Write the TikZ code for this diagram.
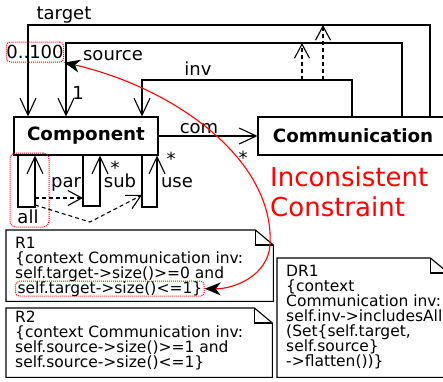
\documentclass[tikz,border=0pt]{standalone}
\usepackage{fontspec}
\setmainfont{DejaVu Sans}
\usetikzlibrary{arrows.meta, positioning}
\newcommand\notefont{\fontsize{15.5}{15}\selectfont\lineskiplimit=-20pt\relax}
\tikzset{
  classbox/.style={rectangle, draw, line width=1.1pt, font=\bfseries\fontsize{18.3}{18.3}\selectfont},
  lbl/.style={inner sep=0pt, anchor=base, font=\fontsize{18}{18}\selectfont},
  notebox/.style={rectangle, anchor=north west, inner sep=0pt},
  notetext/.style={inner sep=0pt, anchor=base west, align=left, font=\notefont},
  highlight/.style={draw=red, densely dotted, line width=1pt, rounded corners=4pt},
  assoc/.style={line width=1.1pt, -{Straight Barb[length=17pt, width=16pt]}},
  dep/.style={line width=1.1pt, dash pattern=on 4pt off 3pt, -{Straight Barb[length=14pt, width=15pt]}},
  conflict/.style={red, line width=1.1pt, {Stealth[black, length=16pt, width=13pt, inset=5pt]}-{Stealth[black, length=16pt, width=13pt, inset=5pt]}}
}
\begin{document}
\begin{tikzpicture}[x=1pt, y=-1pt]
  \useasboundingbox (0,0) rectangle (443,381);
  \clip (0,0) rectangle (443,381);

  % Clases
  \node[classbox, minimum width=144pt, minimum height=38pt] (comp) at (86,136) {Component};
  \node[classbox, minimum width=190pt, minimum height=38pt] (comm) at (353,136) {Communication};

  % Asociaciones target, source, inv
  \draw[assoc] (comm.north -| 430,0) |- (28,25) -- (comp.north -| 28,0);
  \draw[assoc] (comm.north -| 402,0) |- (66,43) -- (comp.north -| 66,0);
  \draw[assoc] (comm.north -| 352,0) |- (142,80) -- (comp.north -| 142,0);
  \node[lbl] (target) at (64,19) {target};
  \node[lbl] (source) at (113,60) {source};
  \node[lbl] (inv) at (198,75) {inv};
  \node[lbl] (one) at (78,99) {1};
  \node[lbl, draw=red, densely dotted, line width=1pt, rounded corners=4pt, anchor=center, minimum width=55pt, minimum height=20pt] (mult) at (35,52) {0..100};

  % inv es subconjunto de source y target
  \coordinate (d1) at (302,80);
  \coordinate (d2) at (323,80);
  \draw[dep] (d1) -- (d1 |- 0,43);
  \draw[dep] (d2) -- (d2 |- 0,25);

  % Asociacion com
  \draw[assoc] (comp.east) -- (comm.west);
  \node[lbl] (com) at (199,133) {com};
  \node[lbl, anchor=center] (comstar) at (243,158) {*};

  % Autoasociaciones all, sub, use
  \draw[assoc] (comp.south -| 18,0) |- (35,207) coordinate (allR) -- (comp.south -| 35,0);
  \draw[assoc] (comp.south -| 83,0) coordinate (subL) |- (100,206) -- (comp.south -| 100,0);
  \draw[assoc] (comp.south -| 142,0) coordinate (useL) |- (157,207) -- (comp.south -| 157,0);
  \node[lbl] (all) at (28,223) {all};
  \node[lbl] (par) at (66,187) {par};
  \node[lbl] (sub) at (120,187) {sub};
  \node[lbl, anchor=center] (substar) at (115,168) {*};
  \node[lbl] (use) at (177,187) {use};
  \node[lbl, anchor=center] (usestar) at (171,159) {*};
  \node[highlight, rounded corners=6pt, minimum width=39pt, minimum height=74pt] (allhl) at (29.5,190) {};

  % par y all
  \coordinate (parS) at (35,198);
  \coordinate (useS) at (35,205);
  \draw[dep] (parS) -- (parS -| subL);
  \draw[dep] (useS) -- (90,222) -- (useL |- 0,195);

  % Notas
  \node[notebox, minimum width=267pt, minimum height=71pt] (r1) at (6,230) {};
  \node[notebox, minimum width=266pt, minimum height=69pt] (r2) at (6,308) {};
  \node[notebox, minimum width=171pt, minimum height=119pt] (dr1) at (277,258) {};
  \foreach \n in {r1,r2,dr1} {
    \draw[line width=1.1pt] (\n.north west) -- ([xshift=-18pt]\n.north east) -- ([yshift=-15pt]\n.north east) |- (\n.south west) -- cycle;
    \draw[line width=1.1pt] ([xshift=-18pt]\n.north east) |- ([yshift=-15pt]\n.north east);
  }
  \node[notetext] (r1txt) at (15,278) {R1\\\{context Communication inv:\\self.target->size()>=0 and};
  \node[notetext, highlight, inner xsep=2pt, inner ysep=0pt] (r1hl) at (15,293) {self.target->size()<=1\}};
  \node[notetext] (r2txt) at (15,367) {R2\\\{context Communication inv:\\self.source->size()>=1 and\\self.source->size()<=1\}};
  \node[notetext] (dr1txt) at (286,366) {DR1\\\{context\\Communication inv:\\self.inv->includesAll\\(Set\{self.target,\\self.source\}\\->flatten())\}};

  % Restriccion inconsistente
  \node[notetext, text=red, font=\fontsize{26}{30}\selectfont] (incons) at (270,216) {Inconsistent\\Constraint};
  \draw[conflict] (mult.south east) .. controls (175,88) and (275,160) .. (270,245) .. controls (268,275) and (235,289) .. (r1hl.east);
\end{tikzpicture}
\end{document}
